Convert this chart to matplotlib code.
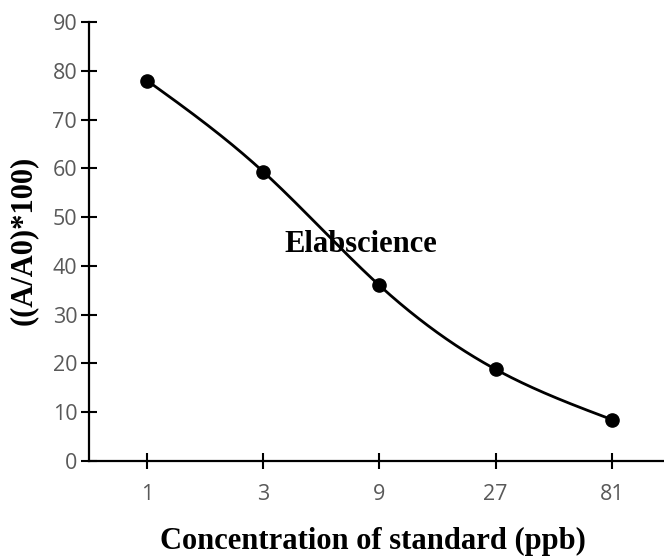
import numpy as np
import matplotlib
matplotlib.use("Agg")
import matplotlib.pyplot as plt

categories = ["1", "3", "9", "27", "81"]
values = [78.0, 59.3, 36.0, 18.8, 8.5]
yticks = [0, 10, 20, 30, 40, 50, 60, 70, 80, 90]


def natural_spline(x, y, n=400):
    x = np.asarray(x, float)
    y = np.asarray(y, float)
    k = len(x)
    h = np.diff(x)
    A = np.zeros((k, k))
    b = np.zeros(k)
    A[0, 0] = 1
    A[-1, -1] = 1
    for i in range(1, k - 1):
        A[i, i - 1] = h[i - 1]
        A[i, i] = 2 * (h[i - 1] + h[i])
        A[i, i + 1] = h[i]
        b[i] = 3 * ((y[i + 1] - y[i]) / h[i] - (y[i] - y[i - 1]) / h[i - 1])
    c = np.linalg.solve(A, b)
    xs = np.linspace(x[0], x[-1], n)
    ys = np.empty_like(xs)
    for j, xv in enumerate(xs):
        i = min(np.searchsorted(x, xv, side="right") - 1, k - 2)
        dx = xv - x[i]
        bi = (y[i + 1] - y[i]) / h[i] - h[i] * (2 * c[i] + c[i + 1]) / 3
        di = (c[i + 1] - c[i]) / (3 * h[i])
        ys[j] = y[i] + bi * dx + c[i] * dx ** 2 + di * dx ** 3
    return xs, ys


fig = plt.figure(figsize=(6.64, 5.57), dpi=100)
ax = fig.add_axes([89 / 664, 1 - 461 / 557, 1 - 89 / 664, (461 - 22) / 557])

xi = np.arange(len(categories))
xs, ys = natural_spline(xi, values)
ax.plot(xs, ys, color="black", lw=2.0, solid_capstyle="round")
ax.plot(xi, values, "o", color="black", ms=9.5)

ax.set_xlim(-0.5, 4.45)
ax.set_ylim(0, 90)
ax.set_xticks(xi)
ax.set_xticklabels(categories)
ax.set_yticks(yticks)
for s in ["top", "right"]:
    ax.spines[s].set_visible(False)
for s in ["left", "bottom"]:
    ax.spines[s].set_linewidth(1.6)
ax.tick_params(direction="inout", length=11, width=1.5, colors="black",
               labelcolor="#595959", labelsize=15.5, pad=3)
for lab in ax.get_xticklabels() + ax.get_yticklabels():
    lab.set_fontfamily("Open Sans")
ax.tick_params(axis="x", pad=11)

fig.text((89 + 664) / 2 / 664 - 0.005, 1 - 549 / 557, "Concentration of standard (ppb)",
         fontfamily="Liberation Serif", fontweight="bold", fontsize=22,
         ha="center", va="baseline")
ax.set_ylabel("((A/A0)*100)", fontfamily="Liberation Serif",
              fontweight="bold", fontsize=22)
ax.yaxis.set_label_coords(-0.089, 0.503)
ax.text(1.185, 44.3, "Elabscience", fontfamily="Liberation Serif",
        fontweight="bold", fontsize=22, ha="left", va="center")

fig.savefig("out.png", dpi=100)
